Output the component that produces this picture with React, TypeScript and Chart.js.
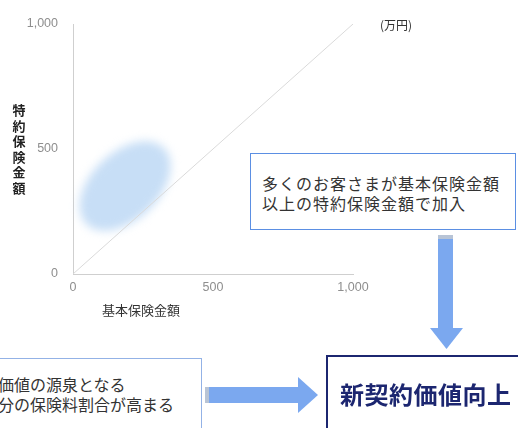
import React, { useEffect, useRef } from "react";
import { Chart, registerables } from "chart.js";

Chart.register(...registerables);

// ---- data ----
const axisMin = 0;
const axisMax = 1000;
const tickStep = 500;
const diagonalX = [0, 1000];
const diagonalY = [0, 1000];
const blobCenter = [186, 352]; // 基本保険金額, 特約保険金額 (万円)
const blobSemiAxes = [194, 120]; // in x-units
const blobAngleDeg = 44;

const xTitle = "基本保険金額";
const yTitle = "特約保険金額";
const unitLabel = "(万円)";
const box1Lines = ["多くのお客さまが基本保険金額", "以上の特約保険金額で加入"];
const box2Lines = ["価値の源泉となる", "分の保険料割合が高まる"];
const box3Text = "新契約価値向上";

const W = 518;
const H = 428;
const JP = '"Noto Sans CJK JP", "Noto Sans", sans-serif';

const blobPlugin = {
  id: "blob",
  beforeDatasetsDraw(chart: any) {
    const { ctx, scales } = chart;
    const xs = scales.x;
    const ys = scales.y;
    const cx = xs.getPixelForValue(blobCenter[0]);
    const cy = ys.getPixelForValue(blobCenter[1]);
    const rx = Math.abs(xs.getPixelForValue(blobCenter[0] + blobSemiAxes[0]) - cx);
    const ry = Math.abs(xs.getPixelForValue(blobCenter[0] + blobSemiAxes[1]) - cx);
    ctx.save();
    ctx.filter = "blur(5px)";
    ctx.fillStyle = "rgba(196,220,245,0.95)";
    ctx.beginPath();
    ctx.ellipse(cx, cy, rx, ry, (-blobAngleDeg * Math.PI) / 180, 0, Math.PI * 2);
    ctx.fill();
    ctx.restore();
  },
};

function ChartCanvas() {
  const ref = useRef<HTMLCanvasElement | null>(null);
  useEffect(() => {
    if (!ref.current) return;
    const chart = new Chart(ref.current, {
      type: "scatter",
      data: {
        datasets: [
          {
            data: diagonalX.map((x, i) => ({ x, y: diagonalY[i] })),
            showLine: true,
            borderColor: "#dadada",
            borderWidth: 1,
            pointRadius: 0,
            fill: false,
          },
        ],
      },
      options: {
        responsive: false,
        animation: false,
        events: [],
        layout: { padding: { left: 0, top: 24, right: 165, bottom: 0 } },
        plugins: { legend: { display: false }, tooltip: { enabled: false } },
        scales: {
          x: {
            type: "linear",
            min: axisMin,
            max: axisMax,
            grid: { display: false, drawTicks: false },
            border: { display: true, color: "#cfcfcf", width: 1 },
            ticks: {
              stepSize: tickStep,
              padding: 6,
              color: "#8e8e8e",
              font: { family: '"Liberation Sans", Arial, sans-serif', size: 12.5 },
              maxRotation: 0,
            },
            afterFit: (s: any) => {
              s.height = 154;
            },
          },
          y: {
            type: "linear",
            min: axisMin,
            max: axisMax,
            grid: { display: false, drawTicks: false },
            border: { display: true, color: "#cfcfcf", width: 1 },
            ticks: {
              stepSize: tickStep,
              padding: 15,
              color: "#8e8e8e",
              font: { family: '"Liberation Sans", Arial, sans-serif', size: 12.5 },
            },
            afterFit: (s: any) => {
              s.width = 73;
            },
          },
        },
      },
      plugins: [blobPlugin],
    } as any);
    return () => chart.destroy();
  }, []);
  return (
    <canvas
      ref={ref}
      width={W}
      height={H}
      style={{ position: "absolute", left: 0, top: 0, width: W, height: H }}
    />
  );
}

export default function App() {
  const box1Color = "#5b8fe3";
  const box2Color = "#93b2e6";
  const navy = "#1c2670";
  const arrow = "#7ba8ef";
  return (
    <div
      style={{
        position: "absolute",
        left: 0,
        top: 0,
        width: W,
        height: H,
        overflow: "hidden",
        background: "#fff",
        fontFamily: JP,
      }}
    >
      <ChartCanvas />
      {/* y title stacked */}
      <div
        style={{
          position: "absolute",
          left: 12,
          top: 102,
          width: 14,
          fontSize: 13,
          lineHeight: "15.6px",
          fontWeight: 700,
          color: "#222",
          textAlign: "center",
        }}
      >
        {yTitle.split("").map((c, i) => (
          <div key={i}>{c}</div>
        ))}
      </div>
      {/* x title */}
      <div
        style={{
          position: "absolute",
          left: 102,
          top: 301,
          fontSize: 13,
          lineHeight: "18px",
          color: "#333",
          whiteSpace: "nowrap",
        }}
      >
        {xTitle}
      </div>
      {/* unit */}
      <div
        style={{
          position: "absolute",
          left: 380,
          top: 16,
          fontSize: 12,
          lineHeight: "18px",
          color: "#333",
          whiteSpace: "nowrap",
        }}
      >
        {unitLabel}
      </div>
      {/* box 1 */}
      <div
        style={{
          position: "absolute",
          left: 250,
          top: 153,
          width: 266,
          height: 77,
          boxSizing: "border-box",
          border: `1.5px solid ${box1Color}`,
          background: "#fff",
        }}
      />
      <div
        style={{
          position: "absolute",
          left: 262,
          top: 173,
          fontSize: 16,
          letterSpacing: "1px",
          lineHeight: "20px",
          color: "#333",
          whiteSpace: "nowrap",
        }}
      >
        {box1Lines.map((l, i) => (
          <div key={i}>{l}</div>
        ))}
      </div>
      {/* box 2 */}
      <div
        style={{
          position: "absolute",
          left: -4,
          top: 358,
          width: 206,
          height: 100,
          boxSizing: "border-box",
          border: `1.5px solid ${box2Color}`,
          background: "#fff",
        }}
      />
      <div
        style={{
          position: "absolute",
          left: -2,
          top: 374,
          fontSize: 16,
          lineHeight: "20px",
          color: "#333",
          whiteSpace: "nowrap",
        }}
      >
        {box2Lines.map((l, i) => (
          <div key={i}>{l}</div>
        ))}
      </div>
      {/* box 3 */}
      <div
        style={{
          position: "absolute",
          left: 326,
          top: 355,
          width: 220,
          height: 100,
          boxSizing: "border-box",
          border: `2px solid ${navy}`,
          background: "#fff",
        }}
      />
      <div
        style={{
          position: "absolute",
          left: 340,
          top: 379,
          fontSize: 24,
          letterSpacing: "0.5px",
          lineHeight: "30px",
          color: navy,
          fontWeight: 700,
          whiteSpace: "nowrap",
        }}
      >
        {box3Text}
      </div>
      {/* arrows */}
      <svg
        width={W}
        height={H}
        style={{ position: "absolute", left: 0, top: 0, pointerEvents: "none" }}
      >
        <rect x={438} y={235} width={15} height={94} fill={arrow} />
        <rect x={438} y={235} width={15} height={4} fill="#b8c4d6" />
        <polygon points="430,328 463,328 446.5,349" fill={arrow} />
        <rect x={205} y={387} width={94} height={16} fill={arrow} />
        <rect x={205} y={387} width={4} height={16} fill="#b8c4d6" />
        <polygon points="298,377 298,413 318,395" fill={arrow} />
      </svg>
    </div>
  );
}
